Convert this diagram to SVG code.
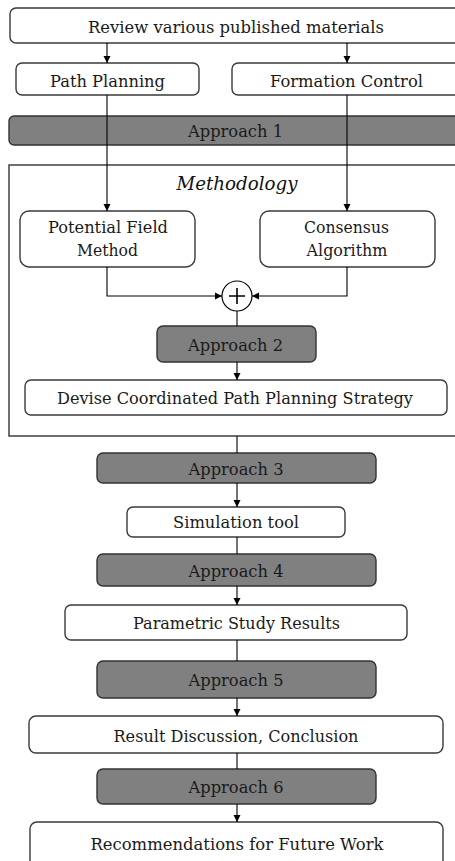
<svg xmlns="http://www.w3.org/2000/svg" width="455" height="861" viewBox="0 0 455 861">
<style>
.box{fill:#fff;stroke:#3a3a3a;stroke-width:1.4}
.ap{fill:#808080;stroke:#333;stroke-width:1.4}
.frame{fill:none;stroke:#333;stroke-width:1.4}
.t{font-family:"DejaVu Serif","Liberation Serif",serif;font-size:16.5px;fill:#1a1a1a;text-anchor:middle}
.ti{font-family:"DejaVu Serif","Liberation Serif",serif;font-size:19px;font-style:italic;fill:#111;text-anchor:middle}
.c{stroke:#000;stroke-width:1.1;fill:none}
.ca{stroke:#000;stroke-width:1.1;fill:none;marker-end:url(#ah)}
</style>
<defs>
<marker id="ah" markerUnits="userSpaceOnUse" markerWidth="8" markerHeight="8" refX="7" refY="4" orient="auto">
<path d="M0,0.5 L7,4 L0,7.5 Z" fill="#000"/>
</marker>
</defs>
<rect width="455" height="861" fill="#fff"/>
<g id="frame"><rect class="frame" x="9" y="165" width="470" height="271"/>
<text class="ti" x="237" y="190" textLength="121" lengthAdjust="spacingAndGlyphs">Methodology</text></g>
<g id="review"><rect class="box" x="10" y="8" width="470" height="35" rx="6"/><text class="t" x="236" y="33" textLength="296" lengthAdjust="spacingAndGlyphs">Review various published materials</text></g>
<g id="pathplanning"><rect class="box" x="16" y="63" width="183" height="32" rx="6"/><text class="t" x="107.5" y="87" textLength="115" lengthAdjust="spacingAndGlyphs">Path Planning</text></g>
<g id="formation"><rect class="box" x="232" y="63" width="250" height="32" rx="6"/><text class="t" x="346.5" y="87" textLength="153" lengthAdjust="spacingAndGlyphs">Formation Control</text></g>
<g id="approach1"><rect class="ap" x="9" y="116" width="470" height="29" rx="5"/><text class="t" x="235.5" y="137" textLength="95" lengthAdjust="spacingAndGlyphs">Approach 1</text></g>
<g id="potential"><rect class="box" x="20" y="211" width="175" height="56" rx="9"/><text class="t" x="108" y="233" textLength="120" lengthAdjust="spacingAndGlyphs">Potential Field</text><text class="t" x="107.5" y="256" textLength="61" lengthAdjust="spacingAndGlyphs">Method</text></g>
<g id="consensus"><rect class="box" x="260" y="211" width="175" height="56" rx="9"/><text class="t" x="346.5" y="233" textLength="85" lengthAdjust="spacingAndGlyphs">Consensus</text><text class="t" x="347" y="256" textLength="81" lengthAdjust="spacingAndGlyphs">Algorithm</text></g>
<g id="sum"><circle cx="237" cy="296" r="15" fill="#fff" stroke="#000" stroke-width="1.2"/><path d="M229,296 H245 M237,288 V304" stroke="#000" stroke-width="1.6"/></g>
<g id="approach2"><rect class="ap" x="157" y="326" width="159" height="36" rx="6"/><text class="t" x="235.5" y="351" textLength="95" lengthAdjust="spacingAndGlyphs">Approach 2</text></g>
<g id="devise"><rect class="box" x="25" y="380" width="422" height="35" rx="6"/><text class="t" x="235" y="404" textLength="356" lengthAdjust="spacingAndGlyphs">Devise Coordinated Path Planning Strategy</text></g>
<g id="approach3"><rect class="ap" x="97" y="453" width="279" height="30" rx="6"/><text class="t" x="236" y="475" textLength="95" lengthAdjust="spacingAndGlyphs">Approach 3</text></g>
<g id="simulation"><rect class="box" x="127" y="507" width="218" height="30" rx="6"/><text class="t" x="236" y="528" textLength="126" lengthAdjust="spacingAndGlyphs">Simulation tool</text></g>
<g id="approach4"><rect class="ap" x="97" y="554" width="279" height="32" rx="6"/><text class="t" x="236" y="577" textLength="95" lengthAdjust="spacingAndGlyphs">Approach 4</text></g>
<g id="parametric"><rect class="box" x="65" y="605" width="342" height="35" rx="6"/><text class="t" x="236.5" y="629" textLength="207" lengthAdjust="spacingAndGlyphs">Parametric Study Results</text></g>
<g id="approach5"><rect class="ap" x="97" y="661" width="279" height="37" rx="6"/><text class="t" x="236" y="686" textLength="95" lengthAdjust="spacingAndGlyphs">Approach 5</text></g>
<g id="result"><rect class="box" x="29" y="716" width="414" height="37" rx="7"/><text class="t" x="236" y="742" textLength="245" lengthAdjust="spacingAndGlyphs">Result Discussion, Conclusion</text></g>
<g id="approach6"><rect class="ap" x="97" y="769" width="279" height="35" rx="6"/><text class="t" x="236" y="793" textLength="95" lengthAdjust="spacingAndGlyphs">Approach 6</text></g>
<g id="recommend"><rect class="box" x="30" y="822" width="413" height="45" rx="7"/><text class="t" x="237" y="850" textLength="293" lengthAdjust="spacingAndGlyphs">Recommendations for Future Work</text></g>
<g id="connectors">
<path class="ca" d="M107,43 V63"/>
<path class="ca" d="M347,43 V63"/>
<path class="ca" d="M107,95 V211"/>
<path class="ca" d="M347,95 V211"/>
<path class="ca" d="M107,267 V296 H222"/>
<path class="ca" d="M347,267 V296 H252"/>
<path class="c" d="M237,311 V326"/>
<path class="ca" d="M237,362 V380"/>
<path class="c" d="M237,436 V453"/>
<path class="ca" d="M237,483 V507"/>
<path class="c" d="M237,537 V554"/>
<path class="ca" d="M237,586 V605"/>
<path class="c" d="M237,640 V661"/>
<path class="ca" d="M237,698 V716"/>
<path class="c" d="M237,753 V769"/>
<path class="ca" d="M237,804 V822"/>
</g>
</svg>
